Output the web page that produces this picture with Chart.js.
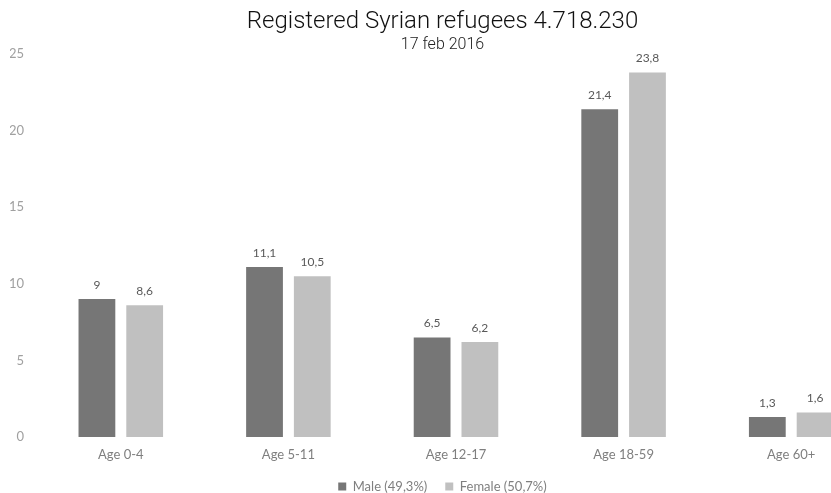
<!DOCTYPE html>
<html>
<head>
<meta charset="utf-8">
<script src="https://cdn.jsdelivr.net/npm/chart.js@4.4.1/dist/chart.umd.min.js"></script>
<style>
  html, body { margin: 0; padding: 0; background: #fff; overflow: hidden; }
  #wrap { width: 875px; height: 493px; }
</style>
</head>
<body>
<div id="wrap"><canvas id="c" width="875" height="493"></canvas></div>
<script>
// Age groups and share of registered refugees (%) per sex
const categories = ['Age 0-4', 'Age 5-11', 'Age 12-17', 'Age 18-59', 'Age 60+'];
const maleValues = [9, 11.1, 6.5, 21.4, 1.3];
const femaleValues = [8.6, 10.5, 6.2, 23.8, 1.6];
const seriesNames = ['Male (49,3%)', 'Female (50,7%)'];
const yTicks = [0, 5, 10, 15, 20, 25];

const fmt = v => String(v).replace('.', ',');

// Writes each bar's value just above it
const valueLabels = {
  id: 'valueLabels',
  afterDatasetsDraw(chart) {
    const ctx = chart.ctx;
    ctx.save();
    ctx.font = '12px Lato';
    ctx.fillStyle = '#595959';
    ctx.textAlign = 'center';
    ctx.textBaseline = 'bottom';
    chart.data.datasets.forEach((ds, i) => {
      chart.getDatasetMeta(i).data.forEach((el, j) => {
        ctx.fillText(fmt(ds.data[j]), el.x, el.y - 8);
      });
    });
    ctx.restore();
  }
};

new Chart(document.getElementById('c'), {
  type: 'bar',
  data: {
    labels: categories,
    datasets: [
      { label: seriesNames[0], data: maleValues, backgroundColor: '#767676',
        categoryPercentage: 0.57, barPercentage: 0.77 },
      { label: seriesNames[1], data: femaleValues, backgroundColor: '#c0c0c0',
        categoryPercentage: 0.57, barPercentage: 0.77 }
    ]
  },
  options: {
    responsive: false,
    animation: false,
    layout: { padding: { left: 10, right: 0, top: 0, bottom: -10 } },
    plugins: {
      title: {
        display: true,
        text: 'Registered Syrian refugees 4.718.230',
        color: '#111',
        font: { family: 'Roboto', size: 24, weight: 300 },
        padding: { top: 8, bottom: -1 }
      },
      subtitle: {
        display: true,
        text: '17 feb 2016',
        color: '#222',
        font: { family: 'Roboto', size: 16, weight: 300 },
        padding: { top: 0, bottom: -1 }
      },
      legend: {
        position: 'bottom',
        labels: {
          boxWidth: 8, boxHeight: 8, padding: 18,
          color: '#7f7f7f',
          font: { family: 'Lato', size: 13 }
        }
      },
      tooltip: { enabled: false }
    },
    scales: {
      x: {
        grid: { display: false, drawTicks: false },
        border: { display: false },
        ticks: { color: '#7f7f7f', font: { family: 'Lato', size: 13 }, padding: 10 },
        afterFit: axis => { axis.height = 25; }
      },
      y: {
        min: 0, max: 25,
        grid: { display: false, drawTicks: false },
        border: { display: false },
        afterBuildTicks: axis => { axis.ticks = yTicks.map(v => ({ value: v })); },
        ticks: { color: '#a0a0a0', font: { family: 'Lato', size: 13 }, padding: 13 },
        afterFit: axis => { axis.width = 27; }
      }
    }
  },
  plugins: [valueLabels]
});
</script>
</body>
</html>
